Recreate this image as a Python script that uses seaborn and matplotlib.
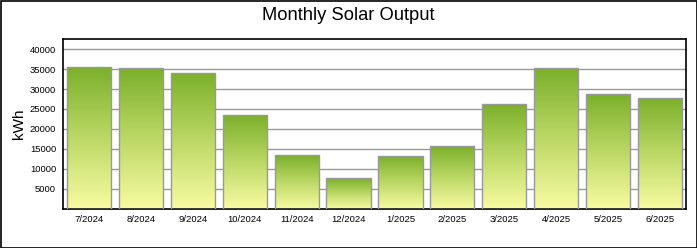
import numpy as np
import pandas as pd
import matplotlib
matplotlib.use("Agg")
import matplotlib.pyplot as plt
import seaborn as sns
from matplotlib.colors import LinearSegmentedColormap
from matplotlib.patches import Rectangle

months = ["7/2024", "8/2024", "9/2024", "10/2024", "11/2024", "12/2024",
          "1/2025", "2/2025", "3/2025", "4/2025", "5/2025", "6/2025"]
output_kwh = [35500, 35250, 34100, 23500, 13500, 7750,
              13250, 15750, 26250, 35250, 28750, 27750]
yticks = [5000, 10000, 15000, 20000, 25000, 30000, 35000, 40000]

title = "Monthly Solar Output"
ylabel = "kWh"

sns.set_theme(style="white")
plt.rcParams['font.family'] = ['Liberation Sans', 'DejaVu Sans']
plt.rcParams.update({"text.color": "black", "axes.labelcolor": "black",
                     "xtick.color": "black", "ytick.color": "black"})

df = pd.DataFrame({"month": months, "kwh": output_kwh})

fig = plt.figure(figsize=(6.97, 2.48), dpi=100)
ax = fig.add_axes([63/697, (248-209)/248, (686-63)/697, (209-39)/248])

sns.barplot(data=df, x="month", y="kwh", ax=ax, width=0.85,
            color="#9cc244", edgecolor="#999999", linewidth=1.0, zorder=3)

cmap = LinearSegmentedColormap.from_list("solar", ["#f8fba2", "#bcd866", "#7bb02a"])
grad = np.linspace(0, 1, 256).reshape(-1, 1)
for p in list(ax.patches):
    x0, y0 = p.get_x(), p.get_y()
    w, h = p.get_width(), p.get_height()
    p.set_facecolor("none")
    im = ax.imshow(grad, cmap=cmap, origin="lower", aspect="auto",
                   extent=[x0, x0 + w, y0, y0 + h], zorder=2.5)
    im.set_clip_path(p)

ax.set_xlim(-0.5, len(months) - 0.5)
ax.set_ylim(0, 42500)
ax.set_yticks(yticks)
ax.set_yticklabels([str(v) for v in yticks], fontsize=6.8, color="black")
ax.tick_params(axis="x", labelsize=6.8, labelcolor="black", length=3, width=0.8,
               color="black", direction="out", pad=1.5)
ax.tick_params(axis="y", labelcolor="black", length=3, width=0.8, color="black",
               direction="out", pad=2)
ax.yaxis.grid(True, color="#999999", linewidth=1.0, zorder=0)
ax.set_axisbelow(True)
for s in ax.spines.values():
    s.set_color("black")
    s.set_linewidth(1.2)
ax.set_xlabel("")
ax.set_ylabel(ylabel, fontsize=11, labelpad=3, color="black")

fig.text(0.5, 1 - 15/248, title, ha="center", va="center", fontsize=13.2, color="black")
fig.add_artist(Rectangle((0.5/697, 0.5/248), 696/697, 247/248, transform=fig.transFigure,
                         fill=False, edgecolor="black", linewidth=1.2))

fig.savefig("out.png", dpi=100)
